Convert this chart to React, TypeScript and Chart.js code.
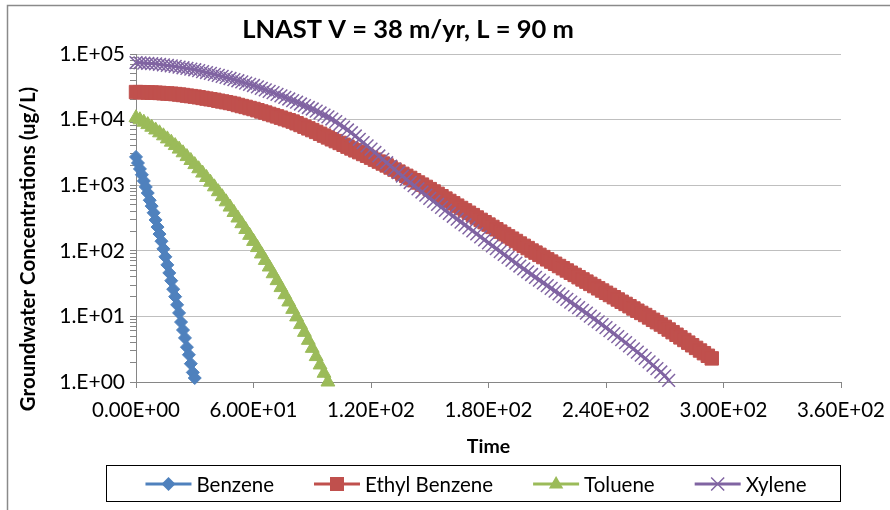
import React, { useEffect, useRef } from 'react';
import { Chart, registerables } from 'chart.js';

Chart.register(...registerables);

const TITLE = 'LNAST V = 38 m/yr, L = 90 m';
const X_TITLE = 'Time';
const Y_TITLE = 'Groundwater Concentrations (ug/L)';
const SERIES_NAMES = ['Benzene', 'Ethyl Benzene', 'Toluene', 'Xylene'];
const SERIES_COLORS = ['#4F81BD', '#C0504D', '#9BBB59', '#8064A2'];
const SERIES_MARKERS = ['rectRot', 'rect', 'triangle', 'crossRot'];
const X_TICKS = [0, 60, 120, 180, 240, 300, 360];
const Y_TICKS = [1, 10, 100, 1000, 10000, 100000];

const BENZENE_TIME = [0, 1, 2, 3, 4, 5, 6, 7, 8, 9, 10, 11, 12, 13, 14, 15, 16, 17, 18, 19, 20, 21, 22, 23, 24, 25, 26, 27, 28, 29, 30];
const BENZENE = [2700, 2180, 1770, 1440, 1160, 940, 760, 590, 480, 380, 295, 230, 180, 140, 107, 81, 61, 46, 35, 26, 20, 15, 11.3, 8.2, 6.2, 4.7, 3.4, 2.6, 1.9, 1.4, 1.15];

const TIME = [0, 2, 4, 6, 8, 10, 12, 14, 16, 18, 20, 22, 24, 26, 28, 30, 32, 34, 36, 38, 40, 42, 44, 46, 48, 50, 52, 54, 56, 58, 60, 62, 64, 66, 68, 70, 72, 74, 76, 78, 80, 82, 84, 86, 88, 90, 92, 94, 96, 98, 100, 102, 104, 106, 108, 110, 112, 114, 116, 118, 120, 122, 124, 126, 128, 130, 132, 134, 136, 138, 140, 142, 144, 146, 148, 150, 152, 154, 156, 158, 160, 162, 164, 166, 168, 170, 172, 174, 176, 178, 180, 182, 184, 186, 188, 190, 192, 194, 196, 198, 200, 202, 204, 206, 208, 210, 212, 214, 216, 218, 220, 222, 224, 226, 228, 230, 232, 234, 236, 238, 240, 242, 244, 246, 248, 250, 252, 254, 256, 258, 260, 262, 264, 266, 268, 270, 272, 274, 276, 278, 280, 282, 284, 286, 288, 290, 292, 294];

const ETHYL_BENZENE = [
  26300, 26200, 26100, 25900, 25800, 25700, 25500, 25200, 25000, 24800,
  24500, 24100, 23700, 23200, 22800, 22400, 21900, 21400, 20900, 20400,
  20000, 19400, 18900, 18400, 17900, 17400, 16700, 16100, 15600, 15000,
  14500, 13900, 13300, 12800, 12200, 11700, 11200, 10700, 10200, 9770,
  9330, 8790, 8280, 7800, 7350, 6920, 6490, 6080, 5700, 5350,
  5010, 4700, 4410, 4130, 3870, 3630, 3400, 3190, 2990, 2810,
  2630, 2450, 2290, 2140, 2000, 1860, 1730, 1610, 1490, 1390,
  1290, 1190, 1100, 1020, 942, 871, 802, 738, 679, 625,
  575, 530, 488, 449, 413, 380, 350, 322, 296, 273,
  251, 231, 213, 196, 180, 166, 153, 141, 129, 119,
  110, 101, 93.8, 86.7, 80.2, 74.1, 68.5, 63.4, 58.6, 54.2,
  50.1, 46.3, 42.9, 39.6, 36.6, 33.9, 31.3, 29.0, 26.8, 24.8,
  22.9, 21.2, 19.6, 18.1, 16.7, 15.5, 14.3, 13.2, 12.2, 11.3,
  10.5, 9.64, 8.87, 8.17, 7.52, 6.92, 6.31, 5.75, 5.25, 4.79,
  4.37, 3.98, 3.63, 3.31, 3.02, 2.75, 2.51, 2.29,
];

const TOLUENE = [
  10700, 9930, 9140, 8390, 7650, 6950, 6290, 5660, 5080, 4530,
  4020, 3550, 3120, 2730, 2380, 2060, 1780, 1530, 1310, 1110,
  944, 796, 668, 558, 464, 384, 316, 259, 211, 172,
  139, 112, 89.5, 71.3, 56.6, 44.7, 35.1, 27.5, 21.4, 16.6,
  12.8, 9.82, 7.50, 5.71, 4.32, 3.26, 2.44, 1.82, 1.36, 1.00,
];

const XYLENE = [
  74100, 73500, 72800, 72100, 71400, 70800, 69500, 68200, 67000, 65800,
  64600, 63100, 61700, 60300, 58900, 57500, 55700, 54000, 52200, 50600,
  49000, 47200, 45500, 43900, 42300, 40700, 39100, 37500, 36000, 34500,
  33100, 31500, 29900, 28400, 27000, 25700, 24300, 23000, 21800, 20600,
  19500, 18400, 17300, 16300, 15300, 14500, 13500, 12600, 11700, 11000,
  10200, 9290, 8430, 7660, 6950, 6310, 5620, 5010, 4470, 3980,
  3550, 3150, 2790, 2480, 2200, 1950, 1740, 1550, 1380, 1230,
  1100, 982, 879, 787, 705, 631, 568, 511, 459, 413,
  372, 336, 303, 274, 248, 224, 201, 181, 163, 147,
  132, 119, 108, 97.3, 87.9, 79.4, 71.8, 64.9, 58.6, 53.0,
  47.9, 43.5, 39.4, 35.8, 32.5, 29.5, 26.8, 24.3, 22.1, 20.0,
  18.2, 16.5, 15.0, 13.6, 12.4, 11.2, 10.1, 9.16, 8.28, 7.48,
  6.76, 6.08, 5.47, 4.92, 4.43, 3.98, 3.56, 3.19, 2.86, 2.56,
  2.29, 2.03, 1.80, 1.60, 1.42, 1.24, 1.06,
];

const FONT = 'Lato';

function fmtX(v: number): string {
  const [m, e] = v.toExponential(2).split('e');
  const n = parseInt(e, 10);
  return m + 'E' + (n < 0 ? '-' : '+') + String(Math.abs(n)).padStart(2, '0');
}

function fmtY(v: number): string {
  const e = Math.round(Math.log10(v));
  return '1.E+' + String(e).padStart(2, '0');
}

function isDecade(v: number): boolean {
  return Y_TICKS.some((t) => Math.abs(t - v) < 1e-9 * t);
}

function drawMarker(ctx: CanvasRenderingContext2D, style: string, x: number, y: number, color: string) {
  ctx.save();
  ctx.fillStyle = color;
  ctx.strokeStyle = color;
  ctx.beginPath();
  if (style === 'rectRot') {
    const r = 7;
    ctx.moveTo(x, y - r);
    ctx.lineTo(x + r, y);
    ctx.lineTo(x, y + r);
    ctx.lineTo(x - r, y);
    ctx.closePath();
    ctx.fill();
  } else if (style === 'rect') {
    const s = 7;
    ctx.rect(x - s, y - s, 2 * s, 2 * s);
    ctx.fill();
  } else if (style === 'triangle') {
    const r = 8;
    ctx.moveTo(x, y - r);
    ctx.lineTo(x + r * 0.9, y + r * 0.55);
    ctx.lineTo(x - r * 0.9, y + r * 0.55);
    ctx.closePath();
    ctx.fill();
  } else {
    const r = 6.5;
    ctx.lineWidth = 1.5;
    ctx.moveTo(x - r, y - r);
    ctx.lineTo(x + r, y + r);
    ctx.moveTo(x + r, y - r);
    ctx.lineTo(x - r, y + r);
    ctx.stroke();
  }
  ctx.restore();
}

const decorPlugin = {
  id: 'decor',
  afterDraw(chart: any) {
    const { ctx, chartArea } = chart;
    const W = chart.width;
    const H = chart.height;
    ctx.save();
    // outer chart border (top & left visible)
    ctx.strokeStyle = '#8a8a8a';
    ctx.lineWidth = 1.5;
    ctx.beginPath();
    ctx.moveTo(7.5, H);
    ctx.lineTo(7.5, 5.5);
    ctx.lineTo(W, 5.5);
    ctx.stroke();

    ctx.fillStyle = '#000';
    ctx.textBaseline = 'middle';
    ctx.textAlign = 'center';
    // title
    ctx.font = `bold 25.5px ${FONT}`;
    ctx.fillText(TITLE, 408, 30);
    // axis titles
    ctx.font = `bold 19.5px ${FONT}`;
    ctx.fillText(X_TITLE, (chartArea.left + chartArea.right) / 2, 447);
    ctx.font = `bold 20.5px ${FONT}`;
    ctx.save();
    ctx.translate(28, 249);
    ctx.rotate(-Math.PI / 2);
    ctx.fillText(Y_TITLE, 0, 0);
    ctx.restore();

    // legend
    const boxL = 106, boxR = 840, boxT = 465, boxB = 501;
    ctx.strokeStyle = '#000';
    ctx.lineWidth = 1;
    ctx.strokeRect(boxL + 0.5, boxT + 0.5, boxR - boxL, boxB - boxT);
    ctx.font = `20.5px ${FONT}`;
    ctx.textAlign = 'left';
    const lineLen = 46, gapText = 5, gapItem = 40;
    const widths = SERIES_NAMES.map((n) => lineLen + gapText + ctx.measureText(n).width);
    const total = widths.reduce((a, b) => a + b, 0) + gapItem * (SERIES_NAMES.length - 1);
    let x = (boxL + boxR) / 2 - total / 2 + 3;
    const ly = (boxT + boxB) / 2 + 1;
    SERIES_NAMES.forEach((name, i) => {
      const c = SERIES_COLORS[i];
      ctx.strokeStyle = c;
      ctx.lineWidth = 3;
      ctx.beginPath();
      ctx.moveTo(x, ly);
      ctx.lineTo(x + lineLen, ly);
      ctx.stroke();
      drawMarker(ctx, SERIES_MARKERS[i], x + lineLen / 2, ly, c);
      ctx.fillStyle = '#000';
      ctx.fillText(name, x + lineLen + gapText, ly + 1);
      x += widths[i] + gapItem;
    });
    ctx.restore();
  },
};

function makeDataset(i: number, times: number[], values: number[], radius: number, order: number) {
  const c = SERIES_COLORS[i];
  return {
    label: SERIES_NAMES[i],
    data: values.map((y, k) => ({ x: times[k], y })),
    borderColor: c,
    backgroundColor: c,
    borderWidth: 3,
    pointStyle: SERIES_MARKERS[i],
    pointRadius: radius,
    pointBackgroundColor: c,
    pointBorderColor: c,
    pointBorderWidth: SERIES_MARKERS[i] === 'crossRot' ? 1.5 : 1,
    tension: 0,
    clip: false,
    order,
  };
}

export default function App() {
  const ref = useRef<HTMLCanvasElement>(null);
  useEffect(() => {
    document.body.style.margin = '0';
    Chart.defaults.font.family = FONT;
    const chart = new Chart(ref.current as HTMLCanvasElement, {
      type: 'line',
      data: {
        datasets: [
          makeDataset(0, BENZENE_TIME, BENZENE, 6.5, 4),
          makeDataset(1, TIME, ETHYL_BENZENE, 9.5, 3),
          makeDataset(2, TIME, TOLUENE, 8, 2),
          makeDataset(3, TIME, XYLENE, 9, 1),
        ] as any,
      },
      options: {
        animation: false,
        responsive: false,
        devicePixelRatio: 1,
        events: [],
        layout: { padding: { top: 54, right: 49, bottom: 0, left: 0 }, autoPadding: false } as any,
        plugins: { legend: { display: false }, title: { display: false }, tooltip: { enabled: false } },
        scales: {
          x: {
            type: 'linear',
            min: 0,
            max: 360,
            afterFit: (s: any) => {
              s.height = 128;
              s.paddingLeft = 0;
              s.paddingRight = 0;
            },
            afterBuildTicks: (s: any) => { s.ticks = X_TICKS.map((v) => ({ value: v })); },
            ticks: {
              autoSkip: false,
              maxRotation: 0,
              padding: 10,
              color: '#000',
              font: { size: 20.5, family: FONT },
              callback: (v: any) => fmtX(Number(v)),
            },
            grid: { drawOnChartArea: false, drawTicks: true, tickLength: 6, color: '#868686', tickColor: '#868686' },
            border: { color: '#868686', width: 1 },
          },
          y: {
            type: 'logarithmic',
            min: 1,
            max: 100000,
            afterFit: (s: any) => {
              s.width = 136;
              s.paddingTop = 0;
              s.paddingBottom = 0;
            },
            afterBuildTicks: (s: any) => {
              const ticks: any[] = [];
              Y_TICKS.forEach((d, k) => {
                ticks.push({ value: d, major: true });
                if (k < Y_TICKS.length - 1) {
                  for (let m = 2; m <= 9; m++) ticks.push({ value: d * m, major: false });
                }
              });
              s.ticks = ticks;
            },
            ticks: {
              autoSkip: false,
              padding: 5,
              color: '#000',
              font: { size: 21, family: FONT },
              callback: (v: any) => (isDecade(Number(v)) ? fmtY(Number(v)) : ''),
            },
            grid: {
              drawTicks: true,
              tickLength: 6,
              color: (c: any) => (c.tick && isDecade(c.tick.value) ? '#bfbfbf' : 'rgba(0,0,0,0)'),
              tickColor: '#868686',
            },
            border: { color: '#868686', width: 1 },
          },
        },
      } as any,
      plugins: [decorPlugin],
    });
    return () => chart.destroy();
  }, []);
  return (
    <div style={{ width: 890, height: 510, position: 'relative' }}>
      <canvas ref={ref} width={890} height={510} style={{ display: 'block' }} />
    </div>
  );
}
